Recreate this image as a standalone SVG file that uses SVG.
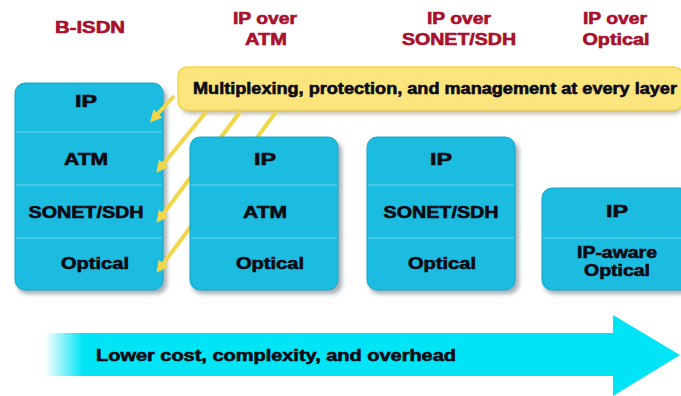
<svg xmlns="http://www.w3.org/2000/svg" width="681" height="396" viewBox="0 0 681 396">
<defs>
<style>
.t{font-family:"Liberation Sans",Arial,sans-serif;font-weight:bold;font-size:16px;fill:#0a0a14;stroke:#0a0a14;stroke-width:0.6;text-anchor:middle}
.h{font-family:"Liberation Sans",Arial,sans-serif;font-weight:bold;font-size:16px;fill:#a8102c;stroke:#a8102c;stroke-width:0.6;text-anchor:middle}
.box{fill:#1cbbe0;stroke:#17a6c8;stroke-width:1}
.sh{fill:#5a6e78;opacity:0.55}
.div{stroke:#6fd6ee;stroke-width:1.2}
.yl{stroke:#f2d64a;stroke-width:4;fill:none;marker-end:url(#ah)}
</style>
<marker id="ah" viewBox="0 0 10 10" refX="5" refY="5" markerWidth="3" markerHeight="3" orient="auto" markerUnits="strokeWidth">
<path d="M0,0 L10,5 L0,10 Z" fill="#f2d64a"/>
</marker>
<linearGradient id="ag" x1="0" y1="0" x2="1" y2="0">
<stop offset="0" stop-color="#00e4f6" stop-opacity="0"/>
<stop offset="0.06" stop-color="#00e4f6" stop-opacity="1"/>
<stop offset="1" stop-color="#00e4f6"/>
</linearGradient>
<filter id="blur" x="-10%" y="-10%" width="120%" height="130%"><feGaussianBlur stdDeviation="2"/></filter>
</defs>
<rect width="681" height="396" fill="#ffffff"/>

<g id="titles">
<text class="h" x="90" y="33" textLength="70" lengthAdjust="spacingAndGlyphs">B-ISDN</text>
<text class="h" x="265" y="24" textLength="64" lengthAdjust="spacingAndGlyphs">IP over</text>
<text class="h" x="266" y="45" textLength="42" lengthAdjust="spacingAndGlyphs">ATM</text>
<text class="h" x="459" y="24" textLength="64" lengthAdjust="spacingAndGlyphs">IP over</text>
<text class="h" x="459" y="45" textLength="114" lengthAdjust="spacingAndGlyphs">SONET/SDH</text>
<text class="h" x="615" y="24" textLength="64" lengthAdjust="spacingAndGlyphs">IP over</text>
<text class="h" x="616" y="45" textLength="67" lengthAdjust="spacingAndGlyphs">Optical</text>
</g>

<g id="callout">
<rect x="181" y="71" width="502" height="43" rx="9" fill="#6f6a4a" opacity="0.45" filter="url(#blur)"/>
<rect x="178" y="67" width="505" height="43" rx="9" fill="#fbe57c" stroke="#f2d64a" stroke-width="1.5"/>
<text class="t" x="435" y="94" font-size="15" textLength="484" lengthAdjust="spacingAndGlyphs">Multiplexing, protection, and management at every layer</text>
</g>

<g id="b-isdn">
<rect class="sh" x="17" y="87" width="150" height="207" rx="10" filter="url(#blur)"/>
<rect class="box" x="15" y="83" width="148" height="207" rx="10"/>
<line class="div" x1="16" y1="132" x2="162" y2="132"/>
<line class="div" x1="16" y1="185" x2="162" y2="185"/>
<line class="div" x1="16" y1="238" x2="162" y2="238"/>
<text class="t" x="86" y="107" textLength="22" lengthAdjust="spacingAndGlyphs">IP</text>
<text class="t" x="86" y="165" textLength="44" lengthAdjust="spacingAndGlyphs">ATM</text>
<text class="t" x="86" y="218" textLength="115" lengthAdjust="spacingAndGlyphs">SONET/SDH</text>
<text class="t" x="95" y="269" textLength="68" lengthAdjust="spacingAndGlyphs">Optical</text>
</g>

<g id="connectors">
<line class="yl" x1="174" y1="96" x2="154" y2="118"/>
<line class="yl" x1="206" y1="112" x2="160" y2="168"/>
<line class="yl" x1="240" y1="112" x2="160" y2="218"/>
<line class="yl" x1="276" y1="112" x2="160" y2="268"/>
</g>

<g id="ip-over-atm">
<rect class="sh" x="192" y="141" width="150" height="153" rx="10" filter="url(#blur)"/>
<rect class="box" x="190" y="137" width="148" height="153" rx="10"/>
<line class="div" x1="191" y1="185" x2="337" y2="185"/>
<line class="div" x1="191" y1="238" x2="337" y2="238"/>
<text class="t" x="265" y="165" textLength="22" lengthAdjust="spacingAndGlyphs">IP</text>
<text class="t" x="265" y="218" textLength="44" lengthAdjust="spacingAndGlyphs">ATM</text>
<text class="t" x="270" y="269" textLength="68" lengthAdjust="spacingAndGlyphs">Optical</text>
</g>

<g id="ip-over-sonet">
<rect class="sh" x="369" y="141" width="150" height="153" rx="10" filter="url(#blur)"/>
<rect class="box" x="367" y="137" width="148" height="153" rx="10"/>
<line class="div" x1="368" y1="185" x2="514" y2="185"/>
<line class="div" x1="368" y1="238" x2="514" y2="238"/>
<text class="t" x="441" y="165" textLength="22" lengthAdjust="spacingAndGlyphs">IP</text>
<text class="t" x="441" y="218" textLength="115" lengthAdjust="spacingAndGlyphs">SONET/SDH</text>
<text class="t" x="442" y="269" textLength="68" lengthAdjust="spacingAndGlyphs">Optical</text>
</g>

<g id="ip-over-optical">
<rect class="sh" x="544" y="192" width="150" height="102" rx="10" filter="url(#blur)"/>
<rect class="box" x="542" y="188" width="148" height="102" rx="10"/>
<line class="div" x1="543" y1="238" x2="681" y2="238"/>
<text class="t" x="617" y="217" textLength="22" lengthAdjust="spacingAndGlyphs">IP</text>
<text class="t" x="617" y="258" textLength="80" lengthAdjust="spacingAndGlyphs">IP-aware</text>
<text class="t" x="617" y="276" textLength="66" lengthAdjust="spacingAndGlyphs">Optical</text>
</g>

<g id="trend-arrow">
<path d="M45,333 L613,333 L613,315 L680,355 L613,396 L613,376 L45,376 Z" fill="url(#ag)"/>
<text class="t" x="276" y="361" font-size="17" textLength="360" lengthAdjust="spacingAndGlyphs">Lower cost, complexity, and overhead</text>
</g>
</svg>
